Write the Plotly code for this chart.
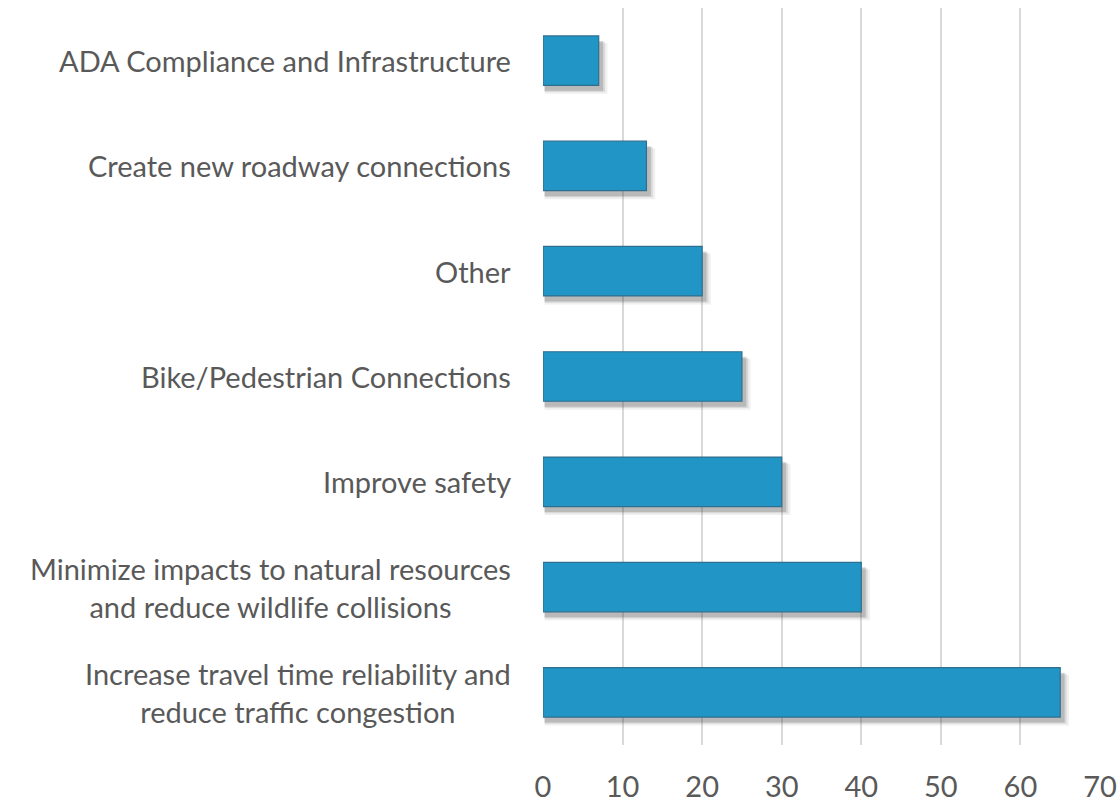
import plotly.graph_objects as go

categories = [
    "ADA Compliance and Infrastructure",
    "Create new roadway connections",
    "Other",
    "Bike/Pedestrian Connections",
    "Improve safety",
    "Minimize impacts to natural resources<br>and reduce wildlife collisions",
    "Increase travel time reliability and<br>reduce traffic congestion",
]
values = [7, 13, 20, 25, 30, 40, 65]
tick_vals = [0, 10, 20, 30, 40, 50, 60, 70]

FONT = "Lato, Open Sans, sans-serif"
GREY = "#595959"

fig = go.Figure()

# soft drop shadow layers
for alpha, grow, shift in [(0.08, 0.9, 0.075), (0.13, 0.6, 0.06), (0.2, 0.35, 0.05)]:
    fig.add_trace(go.Bar(
        y=categories, x=[v + grow for v in values], base=0.2,
        orientation="h", width=0.47 + grow * 0.012, offset=-0.235 + shift - grow * 0.006,
        marker=dict(color=f"rgba(60,60,60,{alpha})", line=dict(width=0)),
        hoverinfo="skip", showlegend=False,
    ))

fig.add_trace(go.Bar(
    y=categories, x=values, orientation="h", width=0.47,
    marker=dict(color="#2195c6", line=dict(color="#2f6f8e", width=1.2)),
    showlegend=False,
))

for c in categories:
    fig.add_annotation(
        x=0, xref="paper", y=c, yref="y", text=c, showarrow=False,
        xanchor="right", xshift=-30, align="center",
        font=dict(family=FONT, size=29, color=GREY),
    )

fig.update_layout(
    width=1120, height=802,
    margin=dict(l=543, r=20, t=8, b=57),
    paper_bgcolor="white", plot_bgcolor="white",
    barmode="overlay",
    font=dict(family=FONT, size=29, color=GREY),
    xaxis=dict(
        range=[0, 70], tickvals=tick_vals, showgrid=True, gridcolor="#d9d9d9", gridwidth=1.5,
        zeroline=False, showline=False, ticks="", ticklabelstandoff=22, automargin=False,
        tickfont=dict(family=FONT, size=29, color=GREY),
    ),
    yaxis=dict(
        categoryorder="array", categoryarray=categories, autorange="reversed",
        showgrid=False, zeroline=False, showline=False, showticklabels=False,
        ticks="", automargin=False,
    ),
)

fig.write_html(
    "out.html",
    config={"displayModeBar": False},
    post_script="document.body.style.margin='0';document.body.style.overflow='hidden';",
)
